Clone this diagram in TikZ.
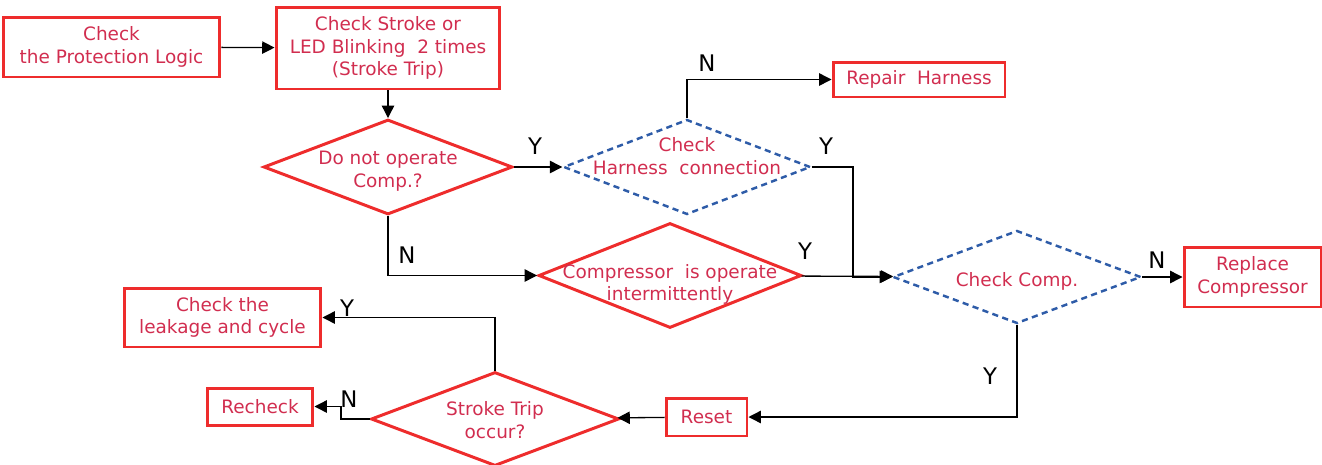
\documentclass[tikz,border=0pt]{standalone}
\usepackage{fontspec}
\setmainfont{DejaVu Sans}
\usetikzlibrary{shapes.geometric,arrows.meta}
\definecolor{boxred}{HTML}{EE2C2C}
\definecolor{txtred}{HTML}{D12D4F}
\definecolor{dashblue}{HTML}{2E5CA8}
\begin{document}
\begin{tikzpicture}[x=0.02cm,y=-0.02cm,
	box/.style={draw=boxred,line width=1.7pt,text=txtred,align=center,inner sep=0pt,font=\fontsize{10.5}{12.8}\selectfont},
	dia/.style={diamond,draw=boxred,line width=1.7pt,inner sep=0pt},
	chk/.style={diamond,draw=dashblue,line width=1.4pt,dash pattern=on 3.5pt off 2.5pt,inner sep=0pt},
	dtxt/.style={text=txtred,align=center,font=\fontsize{10.5}{12.8}\selectfont},
	yn/.style={font=\fontsize{13}{15}\selectfont},
	->/.style={-{Triangle[length=7pt,width=7pt]}},
	every path/.style={line width=0.75pt}]
	\useasboundingbox (0,0) rectangle (1322,464);
			\node[box,minimum width=4.34cm,minimum height=1.2cm] (PL) at (111.5,47) {Check\\the Protection Logic};
			\node[box,minimum width=4.48cm,minimum height=1.64cm] (CS) at (388,48) {Check Stroke or\\LED Blinking\ \ 2 times\\(Stroke Trip)};
			\node[box,minimum width=3.44cm,minimum height=0.7cm] (RH) at (919,79.5) {Repair\ \ Harness};
			\node[box,minimum width=2.74cm,minimum height=1.2cm] (RC) at (1252.5,277) {Replace\\Compressor};
			\node[box,minimum width=3.94cm,minimum height=1.18cm] (LC) at (222.5,317.5) {Check the\\leakage and cycle};
			\node[box,minimum width=2.12cm,minimum height=0.74cm] (RK) at (260,406.5) {Recheck};
			\node[box,minimum width=1.62cm,minimum height=0.76cm] (RE) at (706.5,417) {Reset};
			\node[dia,minimum width=4.98cm,minimum height=1.9cm,label={[dtxt,yshift=-2.3pt]center:Do not operate\\Comp.?}] (DO) at (388,167) {};
			\node[chk,minimum width=4.94cm,minimum height=1.9cm,label={[dtxt,yshift=6.2pt]center:Check\\Harness\ \ connection}] (HC) at (687,167) {};
			\node[dia,minimum width=5.26cm,minimum height=2.1cm,label={[dtxt,yshift=-5pt]center:Compressor\ \ is operate\\intermittently}] (CI) at (670,275.5) {};
			\node[chk,minimum width=4.96cm,minimum height=1.86cm,label={[dtxt,yshift=-2.3pt]center:Check Comp.}] (CC) at (1017,277) {};
			\node[dia,minimum width=4.96cm,minimum height=1.88cm,label={[dtxt,yshift=-0.6pt]center:Stroke Trip\\occur?}] (ST) at (495,419) {};
			\coordinate (HJ) at (853,277);
			\coordinate (SJ) at (341,406.5);
			\path[->]
			(PL) edge (CS)
			(CS) edge (DO)
			(DO) edge (HC)
			(CI) edge (CC)
			(CC) edge (RC)
			(RE) edge (ST);
			\draw[->] (HC.north) |- (RH.west);
			\draw[->] (HC.east) -| (HJ) -- (CC.west);
			\draw[->] (DO.south) |- (CI.west);
			\draw[->] (CC.south) |- (RE.east);
			\draw[->] (ST.north) |- (LC.east);
			\draw[->] (ST.west) -| (SJ) -- (RK.east);
			\node[yn] (Y1) at (535,146) {Y};
			\node[yn] (N1) at (707,63) {N};
			\node[yn] (Y2) at (826,146) {Y};
			\node[yn] (N2) at (407,255) {N};
			\node[yn] (Y3) at (805,251) {Y};
			\node[yn] (N3) at (1157,260) {N};
			\node[yn] (Y4) at (990,376) {Y};
			\node[yn] (Y5) at (347,308) {Y};
			\node[yn] (N4) at (349,399) {N};
\end{tikzpicture}
\end{document}
